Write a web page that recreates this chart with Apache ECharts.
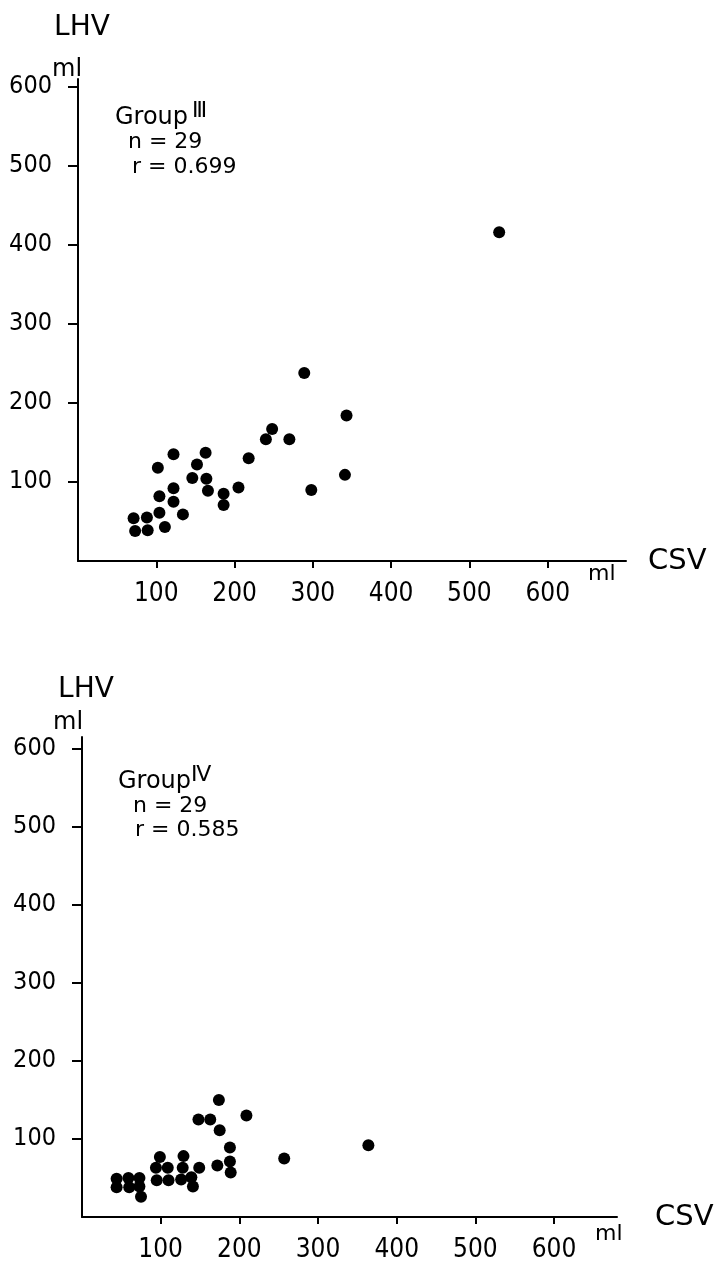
<!DOCTYPE html>
<html>
<head>
<meta charset="utf-8">
<title>LHV - CSV</title>
<script src="https://cdn.jsdelivr.net/npm/echarts@6/dist/echarts.min.js"></script>
<style>
html,body{margin:0;padding:0;background:#fff;}
#charts{width:722px;height:1263px;}
</style>
</head>
<body>
<div id="charts"></div>
<script>
// Group III
var g3Csv = [343,248,240,270,218,163,122,102,152,146,164,166,186,186,205,298,341,122,104,122,104,134,71,88,73,89,111,538,289];
var g3Lhv = [184,167,154,154,130,137,135,118,122,105,104,89,85,71,93,90,109,92,82,75,61,59,54,55,38,39,43,416,238];
// Group IV
var g4Csv = [174,148,163,209,175,364,188,257,188,172,189,99,129,94,109,128,149,44,59,73,95,110,126,139,44,60,75,73,141];
var g4Lhv = [150,125,125,130,111,92,89,75,71,66,57,77,78,63,63,63,63,49,50,50,47,47,48,51,38,38,26,39,39];
var xTicks = [100,200,300,400,500,600];
var yTicks = [100,200,300,400,500,600];

var labelFont = "'DejaVu Sans'";
var narrowFont = "'Liberation Sans Narrow','DejaVu Sans Condensed','DejaVu Sans'";

function pairs(xs, ys){
	var out = [];
	for(var i = 0; i < xs.length; i++){
		out.push([xs[i], ys[i]]);
	}
	return out;
}

function xAxisOf(idx, max, gap){
	return {
		type: 'value', gridIndex: idx, min: 0, max: max,
		name: 'CSV', nameLocation: 'end', nameGap: gap,
		nameTextStyle: {color: '#000', fontSize: 29, fontFamily: labelFont},
		splitLine: {show: false},
		axisLine: {lineStyle: {color: '#000', width: 2}},
		axisTick: {customValues: xTicks, length: 7, lineStyle: {color: '#000', width: 2}},
		axisLabel: {customValues: xTicks, margin: 20, color: '#000', fontSize: 26, fontFamily: narrowFont}
	};
}

function yAxisOf(idx, max, gap){
	return {
		type: 'value', gridIndex: idx, min: 0, max: max,
		name: 'LHV', nameLocation: 'end', nameGap: gap,
		nameTextStyle: {color: '#000', fontSize: 28, fontFamily: labelFont, padding: [0, 0, 0, 8]},
		splitLine: {show: false},
		axisLine: {lineStyle: {color: '#000', width: 2}},
		axisTick: {customValues: yTicks, length: 10, lineStyle: {color: '#000', width: 2}},
		axisLabel: {customValues: yTicks, margin: 26, color: '#000', fontSize: 25, fontFamily: narrowFont}
	};
}

function txt(x, y, s, size){
	return {type: 'text', x: x, y: y, style: {text: s, fill: '#000', fontSize: size, fontFamily: labelFont, verticalAlign: 'middle', align: 'left'}};
}

var myChart = echarts.init(document.getElementById('charts'));
var option = {
	backgroundColor: '#fff',
	animation: false,
	grid: [
		{left: 78, top: 79, width: 548, height: 482},
		{left: 82, top: 737, width: 535, height: 483}
	],
	xAxis: [xAxisOf(0, 700, 22), xAxisOf(1, 680, 38)],
	yAxis: [yAxisOf(0, 610, 37), yAxisOf(1, 615, 33)],
	series: [
		{type: 'scatter', xAxisIndex: 0, yAxisIndex: 0, data: pairs(g3Csv, g3Lhv), symbolSize: 12, itemStyle: {color: '#000', opacity: 1}},
		{type: 'scatter', xAxisIndex: 1, yAxisIndex: 1, data: pairs(g4Csv, g4Lhv), symbolSize: 12, itemStyle: {color: '#000', opacity: 1}}
	],
	graphic: [
		txt(52, 70, 'ml', 24),
		txt(588, 574, 'ml', 22),
		txt(115, 118, 'Group', 24),
		txt(192, 111, 'Ⅲ', 22),
		txt(128, 142, 'n = 29', 22),
		txt(132, 167, 'r = 0.699', 22),

		txt(53, 723, 'ml', 24),
		txt(595, 1234, 'ml', 22),
		txt(118, 782, 'Group', 24),
		txt(191, 775, 'Ⅳ', 22),
		txt(133, 806, 'n = 29', 22),
		txt(135, 830, 'r = 0.585', 22)
	]
};
myChart.setOption(option);
</script>
</body>
</html>
